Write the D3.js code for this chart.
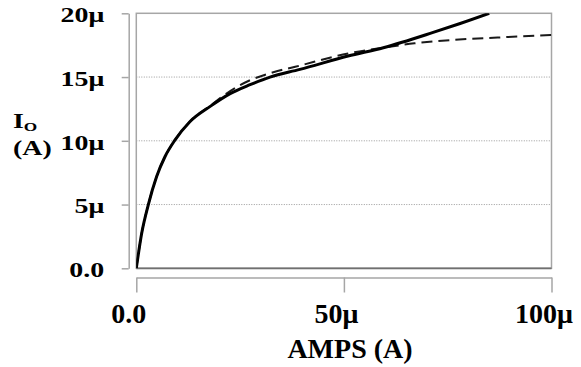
<!DOCTYPE html>
<html>
<head>
<meta charset="utf-8">
<script src="https://cdn.jsdelivr.net/npm/d3@7"></script>
<style>
  body { margin: 0; background: #fff; }
  text { font-family: "Liberation Serif", "Times New Roman", serif; font-weight: bold; fill: #000; }
</style>
</head>
<body>
<svg id="chart"></svg>
<script>
// values in micro-amps
const ampsSolid = [0, 1.3, 2.9, 4.9, 6.9, 9.3, 12.9, 17.8, 22.6, 27.4, 32.2, 39.4, 51, 59.5, 71.5, 78, 85];
const ioSolid   = [0, 2.75, 5.0, 7.2, 8.75, 10.05, 11.5, 12.7, 13.7, 14.4, 15.0, 15.6, 16.65, 17.3, 18.5, 19.2, 20];

const ampsDashed = [0, 1.3, 2.9, 4.9, 6.9, 9.3, 12.9, 17.8, 22.6, 27.4, 32.2, 39.4, 51, 59.5, 67, 75.6, 87, 100];
const ioDashed   = [0, 2.75, 5.0, 7.2, 8.75, 10.05, 11.5, 12.75, 13.9, 14.75, 15.3, 15.9, 16.85, 17.3, 17.65, 17.9, 18.1, 18.3];

const yTickValues = [0, 5, 10, 15, 20];
const yTickLabels = ["0.0", "5\u03bc", "10\u03bc", "15\u03bc", "20\u03bc"];
const xTickValues = [0, 50, 100];
const xTickLabels = ["0.0", "50\u03bc", "100\u03bc"];

const width = 581, height = 367;
const plotLeft = 136.3, plotRight = 551.5, plotTop = 13.3, plotBottom = 268.3;

const svg = d3.select("#chart").attr("width", width).attr("height", height);

const x = d3.scaleLinear().domain([0, 100]).range([plotLeft, plotRight]);
const y = d3.scaleLinear().domain([0, 20]).range([plotBottom, plotTop]);

// gridlines
svg.append("g")
  .selectAll("line")
  .data(yTickValues.filter(v => v > 0 && v < 20))
  .join("line")
  .attr("x1", plotLeft).attr("x2", plotRight)
  .attr("y1", d => y(d)).attr("y2", d => y(d))
  .attr("stroke", "#9a9a9a")
  .attr("stroke-width", 1)
  .attr("stroke-dasharray", "1,1.5");

// plot frame
svg.append("rect")
  .attr("x", plotLeft).attr("y", plotTop)
  .attr("width", plotRight - plotLeft).attr("height", plotBottom - plotTop)
  .attr("fill", "none")
  .attr("stroke", "#a6a6a6")
  .attr("stroke-width", 1.5);
svg.append("line")
  .attr("x1", plotLeft).attr("x2", plotRight)
  .attr("y1", plotBottom).attr("y2", plotBottom)
  .attr("stroke", "#707070")
  .attr("stroke-width", 1.8);

// y axis, set off to the left of the frame
const yAxis = svg.append("g")
  .attr("transform", "translate(128.7,0)")
  .call(d3.axisLeft(y).tickValues(yTickValues).tickSize(7).tickSizeOuter(0)
    .tickFormat((d, i) => yTickLabels[i]));
yAxis.select(".domain").attr("stroke", "#a6a6a6").attr("stroke-width", 1.5);
yAxis.selectAll(".tick line").attr("stroke", "#a6a6a6").attr("stroke-width", 1.5);
yAxis.selectAll(".tick text")
  .attr("x", 0).attr("dy", "0.4em")
  .attr("transform", "translate(-24.5,0) scale(1.33,1)")
  .style("font-size", "21px");

// x axis, set off below the frame
const xAxis = svg.append("g")
  .attr("transform", "translate(0,277.5)")
  .call(d3.axisBottom(x).tickValues(xTickValues).tickSize(15).tickSizeOuter(0)
    .tickFormat((d, i) => xTickLabels[i]));
xAxis.select(".domain").attr("stroke", "#a6a6a6").attr("stroke-width", 1.5);
xAxis.selectAll(".tick line").attr("stroke", "#a6a6a6").attr("stroke-width", 1.5);
xAxis.selectAll(".tick text")
  .attr("y", 45).attr("dy", 0).attr("dx", -8)
  .style("font-size", "28px");

// axis titles
svg.append("text")
  .attr("x", 350).attr("y", 358)
  .attr("text-anchor", "middle")
  .style("font-size", "28px")
  .text("AMPS (A)");

const yTitle = svg.append("text")
  .attr("transform", "translate(13,128) scale(1.33,1)")
  .style("font-size", "21px");
yTitle.append("tspan").text("I");
yTitle.append("tspan").attr("dy", 3).style("font-size", "13px").text("O");
svg.append("text")
  .attr("transform", "translate(13,155) scale(1.33,1)")
  .style("font-size", "21px")
  .text("(A)");

// curves
svg.append("clipPath").attr("id", "plot-clip")
  .append("rect")
  .attr("x", plotLeft).attr("y", plotTop)
  .attr("width", plotRight - plotLeft).attr("height", plotBottom - plotTop);

const line = d3.line()
  .x(d => x(d[0]))
  .y(d => y(d[1]))
  .curve(d3.curveMonotoneX);

svg.append("path")
  .datum(ampsDashed.map((a, i) => [a, ioDashed[i]]))
  .attr("clip-path", "url(#plot-clip)")
  .attr("fill", "none")
  .attr("stroke", "#1a1a1a")
  .attr("stroke-width", 2)
  .attr("stroke-dasharray", "11,6")
  .attr("d", line);

svg.append("path")
  .datum(ampsSolid.map((a, i) => [a, ioSolid[i]]))
  .attr("clip-path", "url(#plot-clip)")
  .attr("fill", "none")
  .attr("stroke", "#000")
  .attr("stroke-width", 3)
  .attr("d", line);
</script>
</body>
</html>
